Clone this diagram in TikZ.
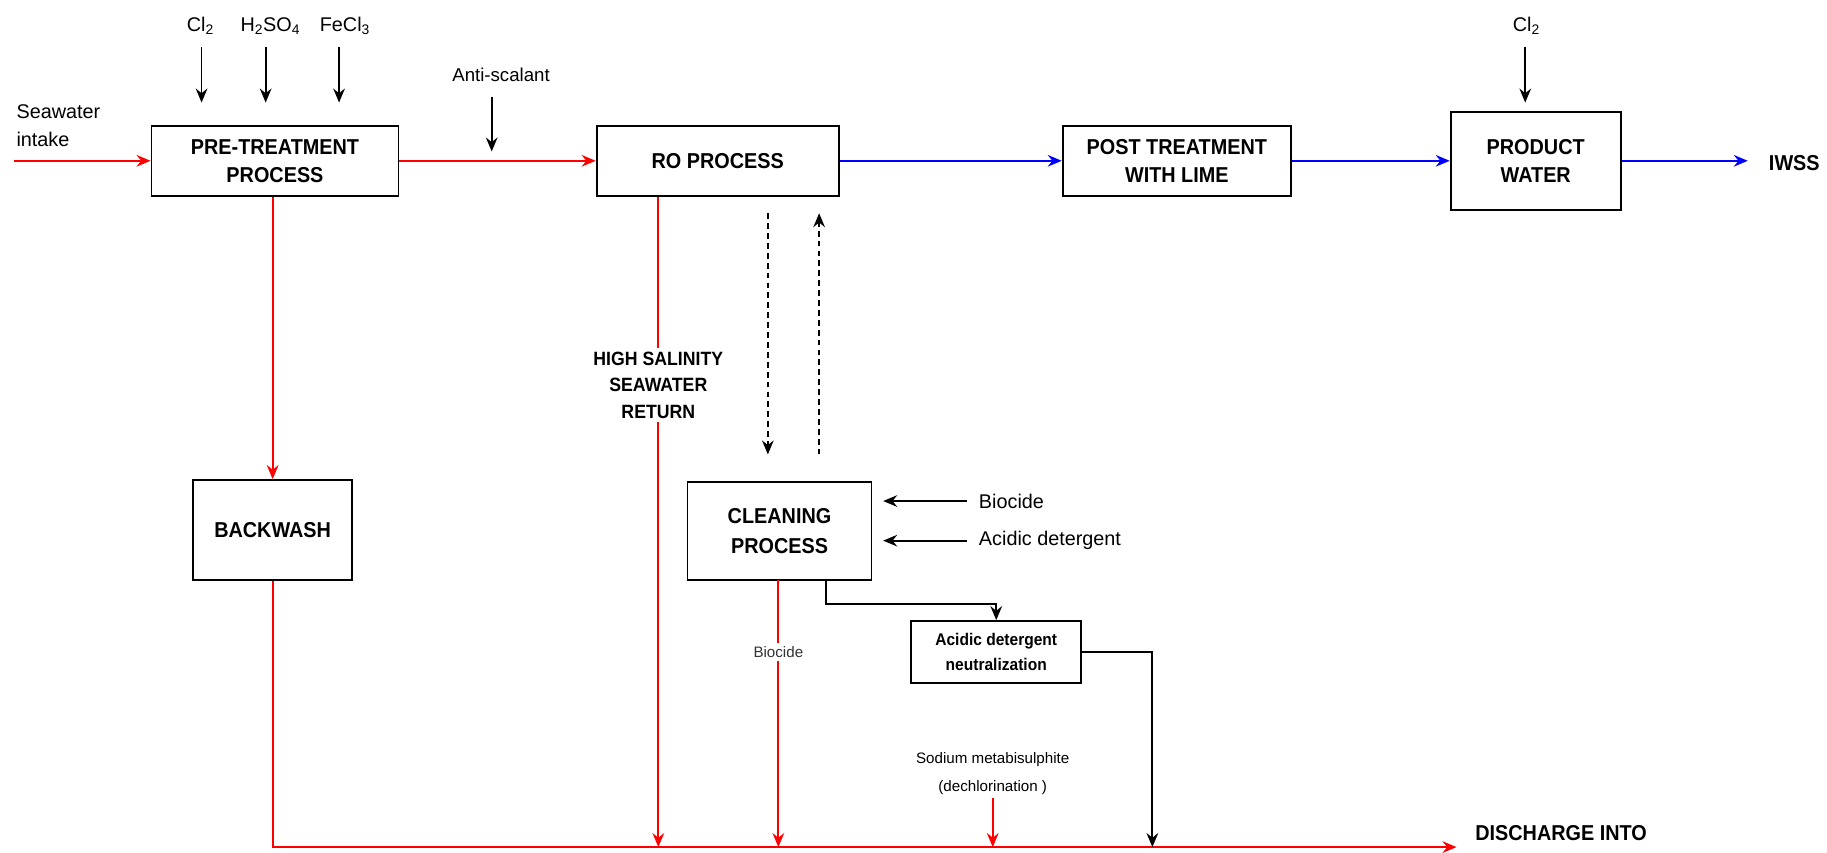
\documentclass[tikz,border=0pt]{standalone}
\usepackage{fontspec}
\setmainfont{Liberation Sans}[BoldFeatures={FakeStretch=0.92}]
\usetikzlibrary{arrows.meta}
\tikzset{
  box/.style={draw=black, line width=1.6pt, align=center, inner sep=0pt,
    font=\bfseries\fontsize{18.5}{24}\selectfont},
  lab/.style={inner sep=0pt, align=center, font=\fontsize{17}{24}\selectfont},
  tip/.style={-{Stealth[length=12pt,width=10pt,inset=4pt]}},
  redflow/.style={tip, red, line width=1.7pt},
  blueflow/.style={tip, blue, line width=1.7pt},
  blackflow/.style={tip, black, line width=1.7pt},
  chem/.style={tip, black, line width=1.5pt},
  dashflow/.style={tip, black, line width=1.2pt, dash pattern=on 5pt off 3.5pt},
}
\begin{document}
\begin{tikzpicture}[x=1pt,y=-1pt]
\useasboundingbox (0,0) rectangle (1568,732);
% process boxes
\node[box, minimum width=212pt, minimum height=60pt] (pre) at (236,138) {PRE-TREATMENT\\PROCESS};
\node[box, minimum width=208pt, minimum height=60pt] (ro) at (616,138) {RO PROCESS};
\node[box, minimum width=196pt, minimum height=60pt] (post) at (1010,138) {POST TREATMENT\\WITH LIME};
\node[box, minimum width=146pt, minimum height=84pt] (prod) at (1318,138) {PRODUCT\\WATER};
\node[box, minimum width=136pt, minimum height=86pt] (bw) at (234,455) {BACKWASH};
\node[box, minimum width=158pt, minimum height=84pt, font=\bfseries\fontsize{18.5}{26}\selectfont] (clean) at (669,456) {CLEANING\\PROCESS};
\node[box, minimum width=146pt, minimum height=53pt, font=\bfseries\fontsize{14.5}{22}\selectfont] (neut) at (855,559.5) {Acidic detergent\\neutralization};

% labels
\node[lab, anchor=west, align=left] (swi) at (14,108) {Seawater\\intake};
\node[lab] (cl) at (172,22) {Cl\textsubscript{2}};
\node[lab] (hso) at (232,22) {H\textsubscript{2}SO\textsubscript{4}};
\node[lab] (fec) at (296,22) {FeCl\textsubscript{3}};
\node[lab, font=\fontsize{16}{20}\selectfont] (anti) at (430,64) {Anti-scalant};
\node[lab] (cl2b) at (1310,22) {Cl\textsubscript{2}};
\node[lab, anchor=west, font=\bfseries\fontsize{18.5}{20}\selectfont] (iwss) at (1518,140) {IWSS};
\node[lab, anchor=west] (bio) at (840,430) {Biocide};
\node[lab, anchor=west] (acd) at (840,464) {Acidic detergent};
\node[lab, font=\fontsize{13}{24}\selectfont] (smb) at (852,664) {Sodium metabisulphite\\(dechlorination )};
\node[lab, anchor=west, font=\bfseries\fontsize{18.5}{20}\selectfont] (dtxt) at (1266,715) {DISCHARGE INTO};

% free-end coordinates
\coordinate (swin) at (12,138);
\coordinate (iwssend) at (1500,138);
\coordinate (dis) at (1250,727);
\coordinate (hsx) at (565,727);
\coordinate (e1) at (709,518);
\coordinate (nx) at (989,727);

% main flow
\draw[redflow] (swin) -- (pre.west);
\draw[redflow] (pre.east) -- (ro.west);
\draw[blueflow] (ro.east) -- (post.west);
\draw[blueflow] (post.east) -- (prod.west);
\draw[blueflow] (prod.east) -- (iwssend);

% chemical dosing arrows
\draw[chem] (173,40) -- (173,88);
\draw[chem] (228,40) -- (228,88);
\draw[chem] (291,40) -- (291,88);
\draw[chem] (422,83) -- (422,130);
\draw[chem] (1309,40) -- (1309,88);
\draw[chem] (830,430) -- (758,430);
\draw[chem] (830,464) -- (758,464);

% pre-treatment to backwash and discharge
\draw[redflow] (bw.north |- pre.south) -- (bw.north);
\draw[redflow] (bw.south) |- (dis);

% high salinity return
\draw[redflow] (hsx |- ro.south) -- node[pos=0.29, fill=white, inner sep=3pt, align=center,
  font=\bfseries\fontsize{16.5}{23}\selectfont, text=black] (hs) {HIGH SALINITY\\SEAWATER\\RETURN} (hsx);

% RO <-> cleaning (dashed)
\draw[dashflow] (659,183) -- (659,390);
\draw[dashflow] (703,390) -- (703,183);

% cleaning biocide to discharge
\draw[redflow] (668,498) -- node[pos=0.27, fill=white, inner sep=3pt,
  font=\fontsize{13}{16}\selectfont, text=black!80] (bc) {Biocide} (668,727);

% cleaning to neutralization to discharge
\draw[blackflow] (clean.south -| e1) -- (e1) -| (neut.north);
\draw[blackflow] (neut.east) -| (nx);

% dechlorination
\draw[redflow] (852,685) -- (852,727);
\end{tikzpicture}
\end{document}
